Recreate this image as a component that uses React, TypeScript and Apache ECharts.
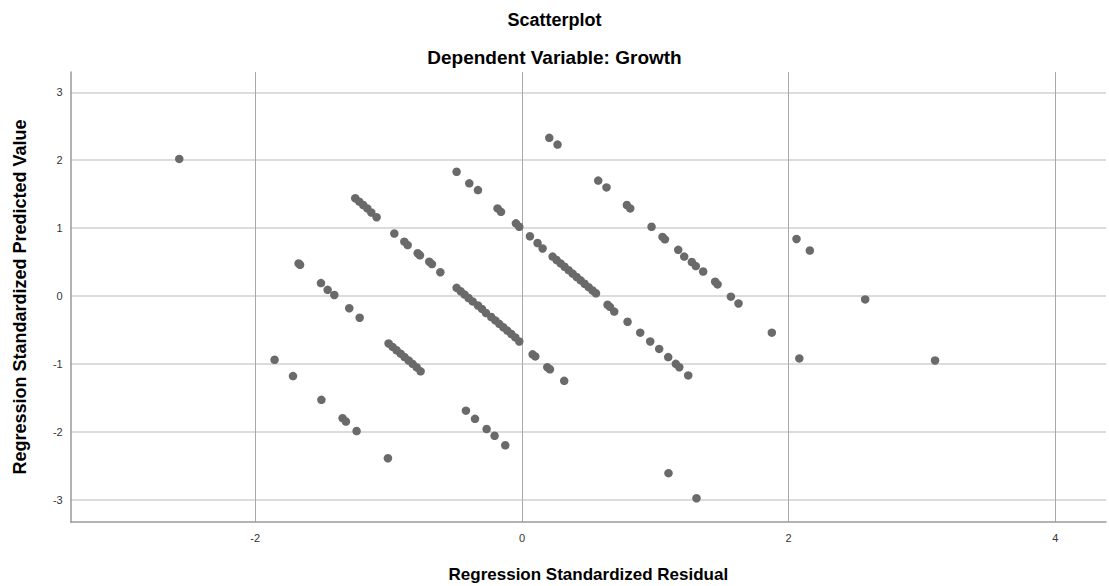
import React, { useEffect, useRef } from "react";
import * as echarts from "echarts";

const residual = [
  -2.57,
  -1.855, -1.717, -1.504, -1.345, -1.32, -1.24, -1.005,
  -1.675, -1.664, -1.507, -1.457, -1.407, -1.295, -1.217,
  -1.0, -0.97, -0.94, -0.91, -0.88, -0.85, -0.82, -0.79, -0.76,
  -0.42, -0.352, -0.265, -0.205, -0.125,
  -1.25, -1.22, -1.19, -1.16, -1.13, -1.09,
  -0.957, -0.882, -0.857, -0.782, -0.765, -0.695, -0.675, -0.612,
  -0.49, -0.46, -0.43, -0.4, -0.37, -0.33, -0.3, -0.27, -0.23, -0.2, -0.17, -0.14, -0.11, -0.08, -0.05, -0.02,
  0.08, 0.1, 0.19, 0.21, 0.317,
  -0.49, -0.395, -0.33, -0.183, -0.157, -0.045, -0.02, 0.06, 0.117, 0.155,
  0.23, 0.26, 0.29, 0.32, 0.35, 0.38, 0.41, 0.44, 0.47, 0.5, 0.53, 0.555,
  0.642, 0.66, 0.692, 0.792, 0.887, 0.962, 1.029, 1.097, 1.154, 1.18, 1.247,
  0.205, 0.267, 0.572, 0.634, 0.787, 0.812, 0.972, 1.054, 1.072, 1.172, 1.217, 1.274, 1.304, 1.359, 1.449, 1.467, 1.567, 1.624,
  1.874, 2.08, 2.059, 2.159, 2.574, 3.098, 1.099, 1.309,
];

const predicted = [
  2.02,
  -0.94, -1.18, -1.53, -1.8, -1.85, -1.99, -2.39,
  0.48, 0.46, 0.19, 0.09, 0.015, -0.18, -0.32,
  -0.7, -0.75, -0.8, -0.85, -0.9, -0.95, -1.0, -1.05, -1.11,
  -1.69, -1.81, -1.96, -2.06, -2.2,
  1.44, 1.39, 1.34, 1.29, 1.23, 1.16,
  0.92, 0.8, 0.75, 0.63, 0.6, 0.505, 0.47, 0.35,
  0.12, 0.07, 0.02, -0.03, -0.08, -0.14, -0.19, -0.25, -0.31, -0.36, -0.41, -0.46, -0.51, -0.56, -0.61, -0.67,
  -0.86, -0.89, -1.05, -1.08, -1.25,
  1.83, 1.66, 1.56, 1.29, 1.24, 1.07, 1.02, 0.88, 0.78, 0.7,
  0.58, 0.53, 0.48, 0.43, 0.38, 0.33, 0.28, 0.23, 0.18, 0.13, 0.08, 0.04,
  -0.13, -0.16, -0.23, -0.38, -0.54, -0.67, -0.78, -0.9, -1.0, -1.05, -1.17,
  2.33, 2.23, 1.7, 1.6, 1.34, 1.29, 1.02, 0.87, 0.835, 0.68, 0.58, 0.5, 0.44, 0.36, 0.21, 0.17, -0.01, -0.11,
  -0.54, -0.92, 0.84, 0.67, -0.05, -0.95, -2.61, -2.98,
];

const xTicks = [-2, 0, 2, 4];
const yTicks = [-3, -2, -1, 0, 1, 2, 3];

const FONT = "'Liberation Sans', Arial, sans-serif";

export default function App() {
  const ref = useRef<HTMLDivElement>(null);

  useEffect(() => {
    const chart = echarts.init(ref.current!, null, { renderer: "svg" });
    const data = residual.map((x, i) => [x, predicted[i]]);
    chart.setOption({
      animation: false,
      backgroundColor: "#ffffff",
      title: [
        {
          text: "Scatterplot",
          left: "center",
          top: 6,
          textStyle: { fontSize: 18, fontWeight: "bold", fontFamily: FONT, color: "#000" },
        },
        {
          text: "Dependent Variable: Growth",
          left: "center",
          top: 43,
          textStyle: { fontSize: 19, fontWeight: "bold", fontFamily: FONT, color: "#000" },
        },
      ],
      grid: { left: 70.7, right: 3, top: 72, bottom: 64, outerBoundsMode: "none", containLabel: false },
      xAxis: {
        type: "value",
        min: -3.384,
        max: 4.38,
        name: "Regression Standardized Residual",
        nameLocation: "middle",
        nameGap: 44,
        nameTextStyle: { fontSize: 17, fontWeight: "bold", fontFamily: FONT, color: "#000" },
        axisLine: { show: true, onZero: false, lineStyle: { color: "#9a9a9a", width: 1.5 } },
        axisTick: { show: false, customValues: xTicks },
        axisLabel: { customValues: xTicks, fontSize: 11, color: "#333", margin: 10, fontFamily: FONT },
        splitLine: { show: true, lineStyle: { color: "#a8a8a8", width: 1 } },
      },
      yAxis: {
        type: "value",
        min: -3.33,
        max: 3.3,
        name: "Regression Standardized Predicted Value",
        nameLocation: "middle",
        nameGap: 42,
        nameTextStyle: { fontSize: 18, fontWeight: "bold", fontFamily: FONT, color: "#000" },
        axisLine: { show: true, onZero: false, lineStyle: { color: "#9a9a9a", width: 1.5 } },
        axisTick: { show: false, customValues: yTicks },
        axisLabel: { customValues: yTicks, fontSize: 11, color: "#333", margin: 8, fontFamily: FONT },
        splitLine: { show: true, lineStyle: { color: "#d0d0d0", width: 1.5 } },
      },
      series: [
        {
          type: "scatter",
          data,
          symbol: "circle",
          symbolSize: 8.5,
          itemStyle: { color: "#6a6a6a", opacity: 1 },
        },
      ],
    });
    return () => chart.dispose();
  }, []);

  return (
    <div
      ref={ref}
      style={{ position: "absolute", left: 0, top: 0, width: 1109, height: 586 }}
    />
  );
}
